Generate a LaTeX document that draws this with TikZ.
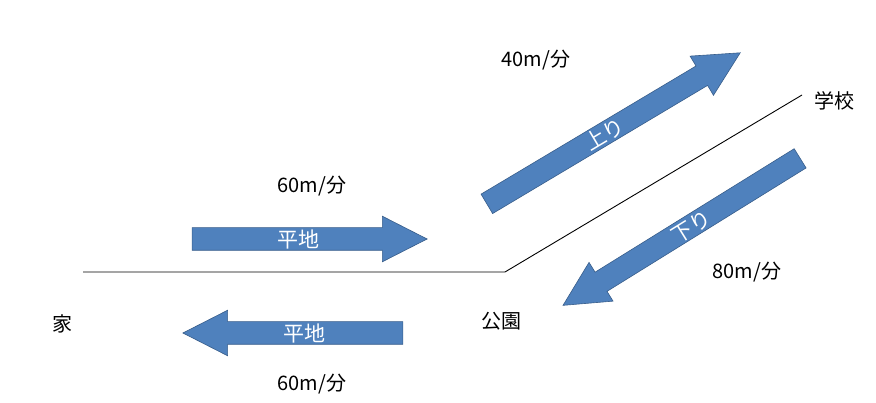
\documentclass[tikz,border=0pt]{standalone}
\usepackage{fontspec}
\newfontfamily\jpfont{Noto Sans CJK JP}
\usepackage{tikz}
\usetikzlibrary{shapes.arrows}

\definecolor{slopeblue}{RGB}{79,129,189}
\definecolor{slopeedge}{RGB}{56,93,138}

\tikzset{
  wayarrow/.style={single arrow, fill=slopeblue, draw=slopeedge, line width=0.6pt,
    text=white, font=\jpfont\fontsize{21}{24}\selectfont,
    inner xsep=0pt, inner ysep=2.75pt, text height=16.5pt, text depth=0pt,
    single arrow head extend=11.5pt, single arrow tip angle=54},
  place/.style={inner sep=0pt},
}

\begin{document}
\begin{tikzpicture}[x=1pt,y=-1pt,font=\jpfont\fontsize{20}{23}\selectfont]
\useasboundingbox (0,0) rectangle (876,403);
\coordinate (start) at (83,272);
\coordinate (corner) at (505,272);
\coordinate (end) at (802,95);
\draw[line width=0.9pt] (start) -- (corner) -- (end);

\node[place] (home) at (62,324) {家};
\node[place] (park) at (501,321) {公園};
\node[place] (school) at (834,101) {学校};

\node[wayarrow, minimum height=235pt] (flatgo) at (298.5,239) {平地};
\node[wayarrow, minimum height=220pt, shape border rotate=180] (flatback) at (304,333) {平地};
\node[wayarrow, minimum height=295pt, rotate=30.8] (upslope) at (604,134) {上り};
\node[wayarrow, minimum height=279pt, rotate=31.8, shape border rotate=180] (downslope) at (691,226) {下り};

\node[place] (flatgospeed) at (312,186) {60m/分};
\node[place] (flatbackspeed) at (312,384) {60m/分};
\node[place] (upspeed) at (536,60) {40m/分};
\node[place] (downspeed) at (747,272) {80m/分};
\end{tikzpicture}
\end{document}
